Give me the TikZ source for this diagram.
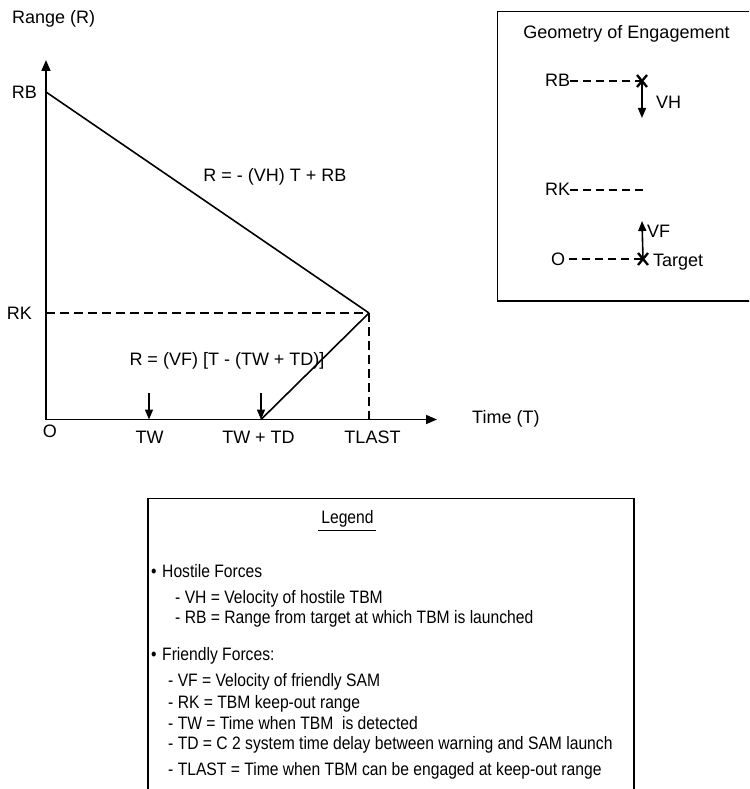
\documentclass[tikz,border=0pt]{standalone}
\usepackage{fontspec}
\setmainfont{Liberation Sans}
\newfontfamily\legendfont[FakeStretch=0.87]{Liberation Sans}
\usetikzlibrary{arrows.meta}

\begin{document}
\begin{tikzpicture}[x=1pt,y=-1pt,
  lbl/.style={inner sep=0pt, font=\fontsize{18}{21}\selectfont},
  axis/.style={line width=1.6pt, -{Triangle[length=11pt,width=9pt]}},
  curve/.style={line width=1.6pt},
  guide/.style={line width=1.6pt, dash pattern=on 9pt off 5pt},
  tick/.style={line width=1.6pt, -{Triangle[length=10pt,width=8pt]}},
  short/.style={line width=1.6pt, dash pattern=on 8pt off 5pt},
  cross/.style={line width=2.3pt},
  frame/.style={line width=1.6pt},
  legtext/.style={inner sep=0pt, anchor=base west, font=\legendfont\fontsize{18}{21}\selectfont},
]
\useasboundingbox (0,0) rectangle (749,789);
\clip (0,0) rectangle (749,789);

% ---------- range / time plot ----------
\coordinate (O) at (46,419.5);
\coordinate (Ytip) at (46,60);
\coordinate (Xtip) at (437,419.5);
\coordinate (RB) at (46,92);
\coordinate (K) at (369,313);
\coordinate (RKaxis) at (46,313);
\coordinate (L) at (369,419.5);
\coordinate (S) at (261,419.5);
\coordinate (TWtop) at (149,393);
\coordinate (TWbot) at (149,419.5);
\coordinate (TDtop) at (261,393);

\draw[axis] (O) -- (Ytip);
\draw[axis] (O) -- (Xtip);
\draw[curve] (RB) -- (K);
\draw[curve] (S) -- (K);
\draw[guide] (RKaxis) -- (K);
\draw[guide] (K) -- (L);
\draw[tick] (TWtop) -- (TWbot);
\draw[tick] (TDtop) -- (S);

\node[lbl, anchor=base west] (yl) at (12,24) {Range (R)};
\node[lbl, anchor=base east] (rbl) at (37,99) {RB};
\node[lbl, anchor=base east] (rkl) at (32,319) {RK};
\node[lbl, anchor=base] (ol) at (50,437) {O};
\node[lbl, anchor=base] (twl) at (149.5,443) {TW};
\node[lbl, anchor=base] (tdl) at (258.5,443) {TW + TD};
\node[lbl, anchor=base] (tll) at (372.5,443) {TLAST};
\node[lbl, anchor=base west] (xl) at (472,423) {Time (T)};
\node[lbl, anchor=base] (eq1) at (275,181) {R = - (VH) T + RB};
\node[lbl, anchor=base] (eq2) at (227,365) {R = (VF) [T - (TW + TD)]};

% ---------- geometry of engagement ----------
\draw[frame] (760,11.7) -- (497.3,11.7) -- (497.3,301) -- (760,301);
\node[lbl, anchor=base] (gt) at (626.5,39) {Geometry of Engagement};

% hostile missile at launch range
\node[lbl, anchor=base west] (grb) at (545,87) {RB};
\coordinate (xh) at (642,81);
\coordinate (vhend) at (642,118);
\draw[cross] ([shift={(-5,-6)}]xh) -- ([shift={(5,6)}]xh)
             ([shift={(5,-6)}]xh) -- ([shift={(-5,6)}]xh);
\draw[short] (grb.east |- xh) -- (xh);
\draw[tick] (xh) -- (vhend);
\node[lbl, anchor=base west] (vh) at (656,109) {VH};

% keep-out range
\node[lbl, anchor=base west] (grk) at (545,195) {RK};
\coordinate (rkend) at (643,190);
\draw[short] (grk.east |- rkend) -- (rkend);

% friendly SAM at the target
\node[lbl, anchor=base west] (go) at (551,265) {O};
\coordinate (xt) at (643,259);
\coordinate (vfend) at (642,221);
\draw[cross] ([shift={(-5,-6)}]xt) -- ([shift={(5,6)}]xt)
             ([shift={(5,-6)}]xt) -- ([shift={(-5,6)}]xt);
\draw[short] (go.east |- xt) ++(4,0) -- (xt);
\draw[tick] (xt) -- (vfend);
\node[lbl, anchor=base west] (vf) at (647,237) {VF};
\node[lbl, anchor=base west] (tg) at (653,266) {Target};

% ---------- legend ----------
\draw[frame] (634,830) -- (634,498.3) -- (148,498.3) -- (148,830);
\node[legtext, anchor=base] (lg) at (347.5,523) {Legend};
\draw[line width=1pt] (318,530) -- (376,530);

\node[legtext] (hb) at (151,577) {\textbullet};
\node[legtext] (h) at (162,577) {Hostile Forces};
\node[legtext] (h1) at (175,603) {- VH = Velocity of hostile TBM};
\node[legtext] (h2) at (175,623) {- RB = Range from target at which TBM is launched};
\node[legtext] (fb) at (151,660) {\textbullet};
\node[legtext] (f) at (162,660) {Friendly Forces:};
\node[legtext] (f1) at (168,686) {- VF = Velocity of friendly SAM};
\node[legtext] (f2) at (168,708) {- RK = TBM keep-out range};
\node[legtext] (f3) at (168,729) {- TW = Time when TBM\ \ is detected};
\node[legtext] (f4) at (168,749) {- TD = C 2 system time delay between warning and SAM launch};
\node[legtext] (f5) at (168,775) {- TLAST = Time when TBM can be engaged at keep-out range};
\end{tikzpicture}
\end{document}
